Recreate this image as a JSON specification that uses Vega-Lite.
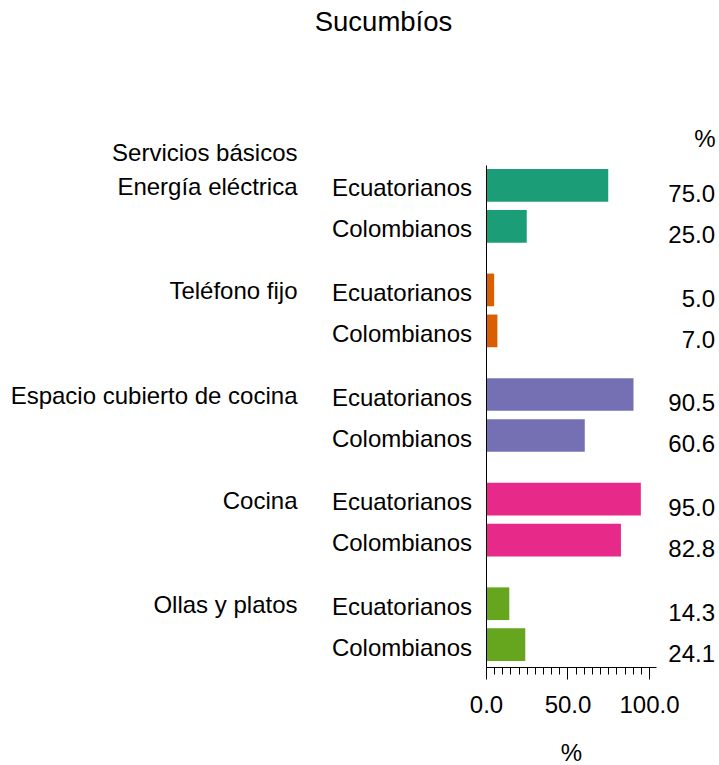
{
  "$schema": "https://vega.github.io/schema/vega-lite/v6.json",
  "width": 170,
  "height": 502,
  "autosize": {"type": "none"},
  "padding": {"left": 486, "top": 165, "right": 63, "bottom": 98},
  "background": "white",
  "config": {
    "font": "Liberation Sans",
    "view": {"stroke": null},
    "axis": {
      "labelFont": "Liberation Sans",
      "titleFont": "Liberation Sans",
      "labelColor": "black",
      "titleColor": "black",
      "domainColor": "black",
      "tickColor": "black",
      "labelFontSize": 24,
      "titleFontSize": 24,
      "titleFontWeight": "normal",
      "grid": false
    },
    "text": {"font": "Liberation Sans", "fontSize": 24, "color": "black"}
  },
  "title": {
    "text": "Sucumbíos",
    "font": "Liberation Sans",
    "fontSize": 27.5,
    "fontWeight": "normal",
    "color": "black",
    "anchor": "middle",
    "frame": "group",
    "dx": -187.5,
    "dy": -69,
    "baseline": "alphabetic",
    "offset": 0
  },
  "data": {
    "values": [
      {"servicio": "Energía eléctrica", "grupo": "Ecuatorianos", "valor": 75.0},
      {"servicio": "Energía eléctrica", "grupo": "Colombianos", "valor": 25.0},
      {"servicio": "Teléfono fijo", "grupo": "Ecuatorianos", "valor": 5.0},
      {"servicio": "Teléfono fijo", "grupo": "Colombianos", "valor": 7.0},
      {"servicio": "Espacio cubierto de cocina", "grupo": "Ecuatorianos", "valor": 90.5},
      {"servicio": "Espacio cubierto de cocina", "grupo": "Colombianos", "valor": 60.6},
      {"servicio": "Cocina", "grupo": "Ecuatorianos", "valor": 95.0},
      {"servicio": "Cocina", "grupo": "Colombianos", "valor": 82.8},
      {"servicio": "Ollas y platos", "grupo": "Ecuatorianos", "valor": 14.3},
      {"servicio": "Ollas y platos", "grupo": "Colombianos", "valor": 24.1}
    ]
  },
  "encoding": {
    "y": {
      "field": "servicio",
      "type": "nominal",
      "sort": ["Energía eléctrica", "Teléfono fijo", "Espacio cubierto de cocina", "Cocina", "Ollas y platos"],
      "scale": {"paddingInner": 0.2954, "paddingOuter": 0.0472, "align": 0.4},
      "axis": {
        "title": "Servicios básicos",
        "titleAngle": 0,
        "titleAlign": "right",
        "titleBaseline": "middle",
        "titleX": -189,
        "titleY": -12,
        "ticks": false,
        "tickSize": 0,
        "labelPadding": 189,
        "labelOffset": -18,
        "labelAlign": "right",
        "labelBaseline": "middle",
        "labelLimit": 400,
        "zindex": 1
      }
    },
    "yOffset": {
      "field": "grupo",
      "type": "nominal",
      "sort": ["Ecuatorianos", "Colombianos"],
      "scale": {"paddingInner": 0.2024, "paddingOuter": 0}
    }
  },
  "layer": [
    {
      "mark": {"type": "bar", "opacity": 0},
      "encoding": {
        "x": {
          "field": "valor",
          "type": "quantitative",
          "scale": {"domain": [0, 104.3], "nice": false, "zero": true},
          "axis": {
            "values": [0, 5, 10, 15, 20, 25, 30, 35, 40, 45, 50, 55, 60, 65, 70, 75, 80, 85, 90, 95, 100],
            "tickSize": 7,
            "labels": false,
            "domain": false,
            "title": null
          }
        }
      }
    },
    {
      "mark": {"type": "bar", "opacity": 0},
      "encoding": {
        "x": {
          "field": "valor",
          "type": "quantitative",
          "axis": {
            "orient": "top",
            "domain": false,
            "ticks": false,
            "labels": false,
            "title": "%",
            "titleX": 229,
            "titleY": -25.6,
            "titleAlign": "right",
            "titleBaseline": "middle",
            "titleAngle": 0
          }
        }
      }
    },
    {
      "mark": {"type": "bar"},
      "encoding": {
        "x": {
          "field": "valor",
          "type": "quantitative",
          "axis": {
            "values": [0, 50, 100],
            "format": ".1f",
            "tickSize": 12,
            "labelPadding": 14,
            "labelFlush": false,
            "labelOverlap": false,
            "title": "%",
            "titleBaseline": "middle",
            "titleY": 86.5,
            "zindex": 1
          }
        },
        "color": {
          "field": "servicio",
          "type": "nominal",
          "scale": {
            "domain": ["Energía eléctrica", "Teléfono fijo", "Espacio cubierto de cocina", "Cocina", "Ollas y platos"],
            "range": ["#1b9e77", "#d95f02", "#7570b3", "#e7298a", "#66a61e"]
          },
          "legend": null
        }
      }
    },
    {
      "mark": {"type": "text", "align": "right", "baseline": "middle", "dx": -14, "dy": 4},
      "encoding": {
        "x": {"datum": 0, "type": "quantitative", "axis": null},
        "text": {"field": "grupo", "type": "nominal"}
      }
    },
    {
      "mark": {"type": "text", "align": "right", "baseline": "middle", "dx": 59, "dy": 9.8},
      "encoding": {
        "x": {"value": "width"},
        "text": {"field": "valor", "type": "quantitative", "format": ".1f"}
      }
    }
  ],
  "resolve": {"axis": {"x": "independent"}}
}
